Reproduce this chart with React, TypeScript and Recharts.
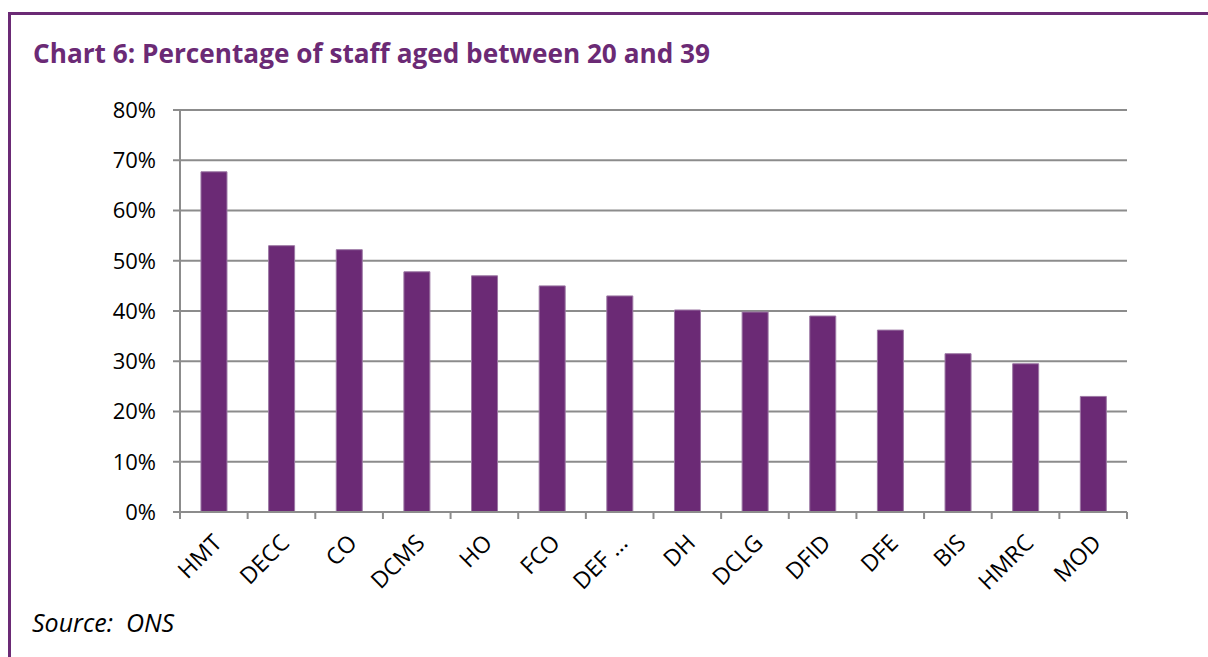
import React from "react";
import { BarChart, Bar, XAxis, YAxis, CartesianGrid } from "recharts";

const categories = ["HMT", "DECC", "CO", "DCMS", "HO", "FCO", "DEF ...", "DH", "DCLG", "DFID", "DFE", "BIS", "HMRC", "MOD"];
const values = [67.7, 53.0, 52.2, 47.8, 47.0, 45.0, 43.0, 40.2, 39.8, 39.0, 36.2, 31.5, 29.5, 23.0];
const yTicks = [0, 10, 20, 30, 40, 50, 60, 70, 80];

const data = categories.map((c, i) => ({ name: c, value: values[i] }));

const W = 1208;
const H = 657;
const PLOT_LEFT = 180;
const PLOT_RIGHT = 1127;
const PLOT_TOP = 110;
const PLOT_BOTTOM = 512;
const Y_AXIS_W = 60;
const X_AXIS_H = 100;
const BAND = (PLOT_RIGHT - PLOT_LEFT) / categories.length;

const PURPLE = "#6B2A75";
const GRID = "#8C8C8C";
const FONT = "'Open Sans', 'Noto Sans', sans-serif";

const XTick = (props: any) => {
  const { x, y, payload, index } = props;
  const tx = x + 3;
  const ty = y + 26;
  return (
    <g>
      <line x1={x - BAND / 2} y1={y} x2={x - BAND / 2} y2={y + 7} stroke={GRID} strokeWidth={2} />
      {index === categories.length - 1 && (
        <line x1={x + BAND / 2} y1={y} x2={x + BAND / 2} y2={y + 7} stroke={GRID} strokeWidth={2} />
      )}
      <text
        transform={`translate(${tx},${ty}) rotate(-45)`}
        textAnchor="end"
        dominantBaseline="central"
        fontSize={23}
        fontFamily={FONT}
        fill="#000"
      >
        {payload.value}
      </text>
    </g>
  );
};

export default function App() {
  return (
    <div style={{ position: "absolute", left: 0, top: 0, width: W, height: H, background: "#fff", overflow: "hidden" }}>
      <div
        style={{
          position: "absolute",
          left: 8,
          top: 12,
          width: W,
          height: H,
          borderTop: `3px solid ${PURPLE}`,
          borderLeft: `3px solid ${PURPLE}`,
        }}
      />
      <div
        style={{
          position: "absolute",
          left: 33,
          top: 35,
          fontFamily: FONT,
          fontWeight: 700,
          fontSize: 26.2,
          lineHeight: "normal",
          color: PURPLE,
          whiteSpace: "nowrap",
        }}
      >
        Chart 6: Percentage of staff aged between 20 and 39
      </div>
      <div
        style={{
          position: "absolute",
          left: 32,
          top: 605,
          fontFamily: FONT,
          fontStyle: "italic",
          fontSize: 25,
          lineHeight: "normal",
          color: "#000",
          whiteSpace: "nowrap",
        }}
      >
        Source:&nbsp; ONS
      </div>
      <div style={{ position: "absolute", left: 0, top: 0 }}>
        <BarChart
          width={W}
          height={H}
          data={data}
          margin={{
            top: PLOT_TOP,
            right: W - PLOT_RIGHT,
            bottom: H - PLOT_BOTTOM - X_AXIS_H,
            left: PLOT_LEFT - Y_AXIS_W,
          }}
          barCategoryGap="31%"
        >
          <CartesianGrid vertical={false} stroke={GRID} strokeWidth={2} />
          <XAxis
            dataKey="name"
            interval={0}
            height={X_AXIS_H}
            tickLine={false}
            tickSize={0}
            tickMargin={0}
            axisLine={{ stroke: GRID, strokeWidth: 2 }}
            tick={<XTick />}
          />
          <YAxis
            width={Y_AXIS_W}
            domain={[0, 80]}
            ticks={yTicks}
            interval={0}
            tickFormatter={(v: number) => `${v}%`}
            axisLine={{ stroke: GRID, strokeWidth: 2 }}
            tickLine={{ stroke: GRID, strokeWidth: 2 }}
            tickSize={7}
            tickMargin={17}
            tick={{ fill: "#000", fontSize: 22, fontFamily: FONT }}
          />
          <Bar dataKey="value" fill={PURPLE} stroke="#9C78A4" strokeWidth={1} isAnimationActive={false} />
        </BarChart>
      </div>
    </div>
  );
}
